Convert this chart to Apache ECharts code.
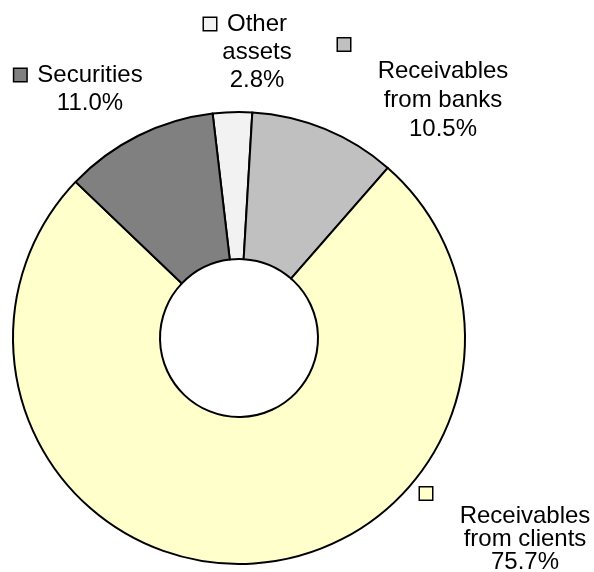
<!DOCTYPE html>
<html>
<head>
<meta charset="utf-8">
<script src="https://cdn.jsdelivr.net/npm/echarts@6/dist/echarts.min.js"></script>
<style>
  html, body { margin: 0; padding: 0; background: #fff; }
  #chart { width: 594px; height: 572px; }
</style>
</head>
<body>
<div id="chart"></div>
<script>
// Asset structure, shares in percent (clockwise from the top)
const categories = ['Other assets', 'Receivables from banks', 'Receivables from clients', 'Securities'];
const labelLines = [['Other', 'assets'], ['Receivables', 'from banks'], ['Receivables', 'from clients'], ['Securities']];
const shares = [2.8, 10.5, 75.7, 11.0];

// Styling
const colors = ['#f2f2f2', '#c0c0c0', '#ffffcc', '#808080'];
// Key square sits inline with the first text line (true) or on its own line above (false)
const keyInline = [true, false, false, true];
// Line heights: the separate key line, and the text lines
const keyLineHeight = [28, 25, 23, 28];
const textLineHeight = [28, 29, 23, 28];
// Label block anchor: horizontal centre and top edge
const labelX = [257, 443, 525, 90];
const labelY = [10, 32, 482, 61];

const rich = {
  g: { width: 11, lineHeight: 12 },
  p: { width: 23, lineHeight: 12 }
};
colors.forEach((c, i) => {
  rich['k' + i] = {
    width: 12, height: 12, lineHeight: 12, verticalAlign: 'middle',
    backgroundColor: c, borderColor: '#000', borderWidth: 1.5
  };
  rich['q' + i] = { width: 198, lineHeight: keyLineHeight[i] };
  rich['t' + i] = { fontSize: 24, lineHeight: textLineHeight[i] };
});

const chart = echarts.init(document.getElementById('chart'), null, { renderer: 'canvas' });
chart.setOption({
  animation: false,
  backgroundColor: '#fff',
  series: [{
    type: 'pie',
    center: [239, 338],
    radius: [79, 226],
    startAngle: 96.7,
    clockwise: true,
    silent: true,
    itemStyle: { borderColor: '#000', borderWidth: 2 },
    label: {
      show: true,
      position: 'outside',
      overflow: 'none',
      fontFamily: '"Liberation Sans", Arial, sans-serif',
      fontSize: 24,
      lineHeight: 12,
      color: '#000',
      align: 'center',
      rich: rich,
      formatter: function (p) {
        const i = p.dataIndex;
        const t = 't' + i;
        const lines = labelLines[i].map(s => '{' + t + '|' + s + '}');
        const pct = '{' + t + '|' + p.value.toFixed(1) + '%}';
        if (keyInline[i]) {
          lines[0] = '{k' + i + '| }{g| }' + lines[0] + '{p| }';
          return lines.concat([pct]).join('\n');
        }
        return ['{k' + i + '| }{q' + i + '| }'].concat(lines, [pct]).join('\n');
      }
    },
    labelLine: { show: false },
    labelLayout: function (params) {
      const i = params.dataIndex;
      return { x: labelX[i], y: labelY[i], align: 'center', verticalAlign: 'top' };
    },
    data: categories.map((name, i) => ({
      name: name,
      value: shares[i],
      itemStyle: { color: colors[i] }
    }))
  }]
});
</script>
</body>
</html>
